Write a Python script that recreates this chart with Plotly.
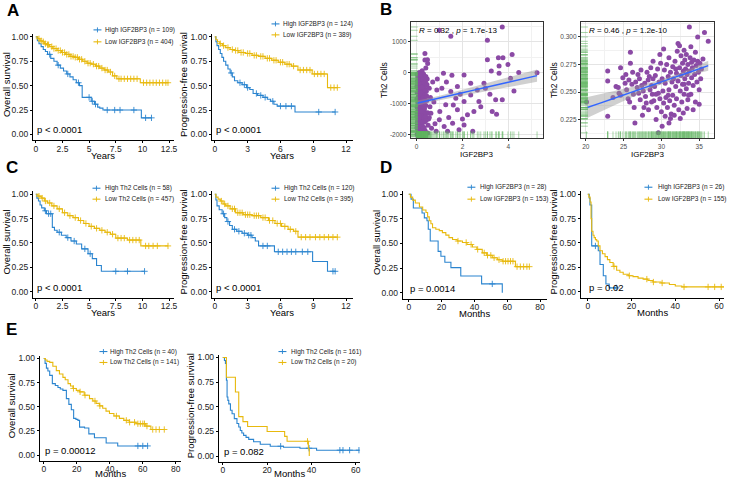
import numpy as np
import plotly.graph_objects as go

W, H = 730, 479
FONT = "Liberation Sans, Arial, sans-serif"
BLUE = "#2a84cf"
GOLD = "#e8b90d"
PURPLE = "#8b4aa5"
RUG = "rgba(96,180,96,0.55)"

# ---------------- KM curves (time, survival, censor times) ----------------
a1_hi_t = [0, 0.15, 0.3, 0.5, 0.7, 0.9, 1.1, 1.4, 1.7, 2.0, 2.3, 2.6, 2.9, 3.2, 3.5, 3.8, 4.1, 4.35, 5.2, 5.5, 5.8, 6.0, 6.3, 9.9, 10.85]
a1_hi_s = [1.0, 0.96, 0.93, 0.90, 0.87, 0.85, 0.82, 0.78, 0.75, 0.71, 0.68, 0.65, 0.62, 0.59, 0.56, 0.53, 0.50, 0.38, 0.34, 0.31, 0.28, 0.27, 0.25, 0.17, 0.17]
a1_hi_c = [1.3, 2.1, 3.0, 4.0, 5.0, 5.3, 5.6, 6.7, 7.4, 7.9, 9.2, 10.3, 10.85]
a1_lo_t = [0, 0.2, 0.4, 0.6, 0.8, 1.0, 1.3, 1.6, 2.0, 2.4, 2.8, 3.2, 3.6, 4.0, 4.4, 4.8, 5.2, 5.6, 6.0, 6.4, 6.8, 7.2, 7.6, 9.8, 12.4]
a1_lo_s = [1.0, 0.98, 0.96, 0.95, 0.93, 0.92, 0.90, 0.88, 0.86, 0.84, 0.82, 0.80, 0.79, 0.77, 0.75, 0.73, 0.72, 0.70, 0.68, 0.66, 0.64, 0.60, 0.57, 0.53, 0.53]
a1_lo_c = [0.3, 0.5, 0.7, 0.9, 1.1, 1.2, 1.5, 1.7, 1.9, 2.1, 2.3, 2.5, 2.7, 2.9, 3.1, 3.3, 3.5, 3.7, 3.9, 4.1, 4.3,
           4.6, 4.9, 5.1, 5.4, 5.7, 5.9, 6.2, 6.5, 6.7, 7.0, 7.4, 7.8, 8.0, 8.3, 8.6, 8.9, 9.2, 9.5, 10.1,
           10.4, 10.7, 11.0, 11.3, 11.6, 11.9, 12.2, 12.4]

a2_hi_t = [0, 0.1, 0.2, 0.35, 0.5, 0.65, 0.8, 1.0, 1.2, 1.4, 1.6, 1.8, 2.1, 2.5, 2.9, 3.2, 3.5, 3.9, 4.4, 4.8, 5.1, 5.4, 5.7, 7.33, 11.0]
a2_hi_s = [1.0, 0.95, 0.91, 0.87, 0.83, 0.79, 0.75, 0.71, 0.67, 0.63, 0.59, 0.55, 0.53, 0.51, 0.48, 0.46, 0.42, 0.40, 0.38, 0.36, 0.34, 0.31, 0.29, 0.23, 0.23]
a2_hi_c = [1.5, 2.3, 2.7, 3.0, 3.8, 4.2, 4.6, 5.3, 6.0, 6.5, 7.0, 9.5, 11.0]
a2_lo_t = [0, 0.1, 0.25, 0.45, 0.7, 1.0, 1.4, 1.8, 2.2, 2.8, 3.4, 4.0, 4.6, 5.2, 5.8, 6.4, 7.0, 7.6, 8.9, 10.3, 11.2]
a2_lo_s = [1.0, 0.97, 0.95, 0.93, 0.91, 0.89, 0.87, 0.86, 0.84, 0.83, 0.81, 0.80, 0.78, 0.76, 0.74, 0.72, 0.70, 0.66, 0.62, 0.48, 0.48]
a2_lo_c = [0.5, 0.8, 1.2, 1.6, 1.9, 2.1, 2.4, 2.6, 3.0, 3.2, 3.6, 3.8, 4.2, 4.4, 4.8, 5.0, 5.4, 5.6, 6.0, 6.2,
           6.6, 6.8, 7.2, 7.8, 8.1, 8.4, 8.7, 9.1, 9.4, 9.7, 10.0, 10.6, 10.9, 11.2]

c1_hi_t = [0, 0.1, 0.25, 0.4, 0.55, 0.8, 1.0, 1.55, 1.75, 2.0, 2.4, 2.85, 3.3, 3.8, 4.3, 4.9, 5.3, 5.7, 6.15, 10.2]
c1_hi_s = [1.0, 0.96, 0.93, 0.89, 0.86, 0.83, 0.80, 0.66, 0.63, 0.61, 0.58, 0.555, 0.52, 0.49, 0.44, 0.39, 0.34, 0.27, 0.21, 0.21]
c1_hi_c = [0.9, 1.2, 1.4, 2.2, 3.0, 3.6, 4.6, 5.1, 7.5, 8.6, 10.2]
c1_lo_t = [0, 0.2, 0.5, 0.8, 1.1, 1.5, 2.0, 2.5, 3.0, 3.5, 4.0, 4.5, 5.0, 5.5, 6.0, 6.5, 7.0, 7.5, 8.6, 9.85, 12.4]
c1_lo_s = [1.0, 0.98, 0.96, 0.93, 0.91, 0.88, 0.85, 0.81, 0.78, 0.76, 0.73, 0.70, 0.67, 0.65, 0.63, 0.61, 0.59, 0.55, 0.53, 0.47, 0.47]
c1_lo_c = [0.3, 0.6, 0.9, 1.3, 1.7, 2.2, 2.7, 3.2, 3.7, 4.2, 4.7, 5.2, 5.7, 6.2, 6.7, 7.2, 7.7, 8.0, 8.3, 8.8,
           9.1, 9.4, 9.7, 10.3, 10.6, 11.0, 11.4, 12.4]

c2_hi_t = [0, 0.1, 0.2, 0.4, 0.67, 0.9, 1.1, 1.35, 1.6, 2.0, 2.5, 3.0, 3.4, 3.7, 4.0, 5.45, 8.94, 10.3, 11.0]
c2_hi_s = [1.0, 0.94, 0.88, 0.84, 0.80, 0.76, 0.72, 0.68, 0.64, 0.62, 0.60, 0.58, 0.555, 0.52, 0.47, 0.41, 0.31, 0.21, 0.21]
c2_hi_c = [0.8, 1.2, 1.8, 2.2, 2.7, 3.1, 3.3, 4.4, 4.8, 5.8, 6.2, 6.6, 7.0, 7.4, 8.0, 8.5, 10.8, 11.0]
c2_lo_t = [0, 0.1, 0.3, 0.5, 0.75, 1.0, 1.4, 1.9, 2.6, 3.4, 4.2, 4.9, 5.5, 6.1, 6.7, 7.2, 7.6, 11.2]
c2_lo_s = [1.0, 0.97, 0.95, 0.93, 0.90, 0.88, 0.85, 0.81, 0.79, 0.78, 0.76, 0.73, 0.70, 0.67, 0.64, 0.62, 0.56, 0.56]
c2_lo_c = [0.6, 0.9, 1.2, 1.6, 1.8, 2.1, 2.3, 2.5, 2.8, 3.0, 3.2, 3.6, 3.8, 4.0, 4.4, 4.6, 5.0, 5.3, 5.7, 6.0,
           6.4, 6.9, 7.4, 7.9, 8.3, 8.7, 9.2, 9.6, 10.0, 10.4, 10.8, 11.2]

d1_hi_t = [0, 1.4, 2.8, 8.1, 9.5, 11.1, 11.9, 13.1, 17.9, 19.6, 22.0, 25.7, 31.7, 44.4, 57.0]
d1_hi_s = [1.0, 0.95, 0.86, 0.81, 0.76, 0.73, 0.645, 0.525, 0.42, 0.37, 0.31, 0.255, 0.17, 0.09, 0.0]
d1_hi_c = [50.9]
d1_lo_t = [0, 1.0, 2.4, 4.0, 6.5, 8.5, 10.5, 11.5, 12.5, 13.5, 14.5, 16.5, 18.6, 20.5, 22.6, 24.5, 26.7, 29.5,
           32.7, 35.5, 38.8, 41.5, 44.8, 47.5, 50.9, 54.0, 57.0, 65.0, 73.5]
d1_lo_s = [1.0, 0.97, 0.94, 0.91, 0.87, 0.84, 0.815, 0.77, 0.73, 0.70, 0.66, 0.645, 0.63, 0.61, 0.585, 0.56, 0.54, 0.525,
           0.51, 0.49, 0.465, 0.44, 0.405, 0.38, 0.355, 0.335, 0.32, 0.265, 0.265]
d1_lo_c = [30, 35, 38, 42, 46, 48, 50, 52, 55, 57.5, 59, 60.5, 62, 63.5, 66, 68, 70, 72, 73.5]

d2_hi_t = [0, 0.7, 1.0, 1.8, 4.8, 5.6, 7.1, 8.3, 9.8, 13.0]
d2_hi_s = [1.0, 0.96, 0.89, 0.47, 0.42, 0.28, 0.165, 0.08, 0.04, 0.04]
d2_hi_c = [3.5, 13.0]
d2_lo_t = [0, 0.5, 1.06, 1.5, 1.8, 2.4, 2.9, 3.5, 4.1, 4.8, 5.6, 6.7, 7.9, 9.0, 10.1, 11.6, 13.2, 14.7, 16.2,
           18.5, 20.7, 23.0, 25.3, 27.5, 29.8, 33.5, 37.3, 40.0, 43.0, 62.3]
d2_lo_s = [1.0, 0.97, 0.92, 0.75, 0.62, 0.58, 0.555, 0.535, 0.52, 0.47, 0.42, 0.39, 0.36, 0.33, 0.30, 0.26, 0.22, 0.20, 0.18,
           0.165, 0.155, 0.14, 0.13, 0.115, 0.10, 0.09, 0.075, 0.06, 0.05, 0.05]
d2_lo_c = [12, 19, 27, 30, 34, 44, 55, 58, 61]

e1_hi_t = [0, 0.8, 1.6, 2.5, 3.6, 5.2, 7.0, 8.6, 10.0, 11.6, 13.7, 15.2, 16.7, 18.1, 19.5, 20.7, 21.7, 24.7, 27.3,
           30.7, 37.8, 44.8, 62.9]
e1_hi_s = [1.0, 0.95, 0.90, 0.87, 0.825, 0.74, 0.72, 0.70, 0.685, 0.67, 0.585, 0.525, 0.47, 0.38, 0.37, 0.36, 0.29, 0.28, 0.22,
           0.18, 0.125, 0.095, 0.095]
e1_hi_c = [57, 60, 62.9]
e1_lo_t = [0, 1.0, 2.0, 3.6, 5.5, 7.6, 9.5, 11.6, 13.0, 14.7, 16.2, 17.7, 19.7, 21.7, 24.5, 27.7, 29.7, 31.7, 33.7,
           35.7, 37.7, 39.8, 42.5, 45.8, 48.5, 51.8, 55.9, 61.8, 64.9, 73.0]
e1_lo_s = [1.0, 0.985, 0.97, 0.96, 0.92, 0.875, 0.84, 0.805, 0.78, 0.74, 0.715, 0.69, 0.67, 0.655, 0.62, 0.585, 0.56, 0.535, 0.51,
           0.485, 0.455, 0.43, 0.405, 0.38, 0.36, 0.34, 0.325, 0.30, 0.265, 0.265]
e1_lo_c = [18, 22, 25, 31, 34, 44, 50, 52, 55, 57, 58.5, 60, 61, 62.5, 66, 68, 70, 73]

e2_hi_t = [0, 0.75, 1.2, 1.64, 1.94, 2.3, 2.7, 3.45, 4.2, 5.2, 6.4, 7.2, 7.9, 8.6, 9.4, 10.5, 11.7, 13.9, 16.9,
           21.4, 27.4, 34.8, 42.3, 61.4]
e2_hi_s = [1.0, 0.97, 0.94, 0.77, 0.60, 0.565, 0.53, 0.465, 0.43, 0.38, 0.33, 0.295, 0.26, 0.235, 0.21, 0.19, 0.17, 0.145, 0.12,
           0.10, 0.09, 0.08, 0.06, 0.06]
e2_hi_c = [26.1, 38.9, 52.8, 54.2, 57.2, 61.4]
e2_lo_t = [0, 1.64, 5.7, 7.2, 9.1, 11.2, 20.0, 27.9, 29.0, 38.6, 39.0]
e2_lo_s = [1.0, 0.80, 0.65, 0.40, 0.35, 0.30, 0.25, 0.20, 0.15, 0.075, 0.0]
e2_lo_c = [38.2]

surv_ticks = [0, 0.25, 0.5, 0.75, 1.0]
surv_labels = ["0.00", "0.25", "0.50", "0.75", "1.00"]
years_a_vals = [0, 2.5, 5, 7.5, 10, 12.5]
years_a_text = ["0", "2.5", "5", "7.5", "10", "12.5"]
years_b_vals = [0, 3, 6, 9, 12]
months80_vals = [0, 20, 40, 60, 80]
months60_vals = [0, 20, 40, 60]

# ---------------- panel B scatter data ----------------
b1_igf2bp3 = [
    0.02, 0.10, 0.18, 0.30, 0.05, 0.14, 0.25, 0.40, 0.03, 0.09,
    0.21, 0.33, 0.12, 0.01, 0.27, 0.45, 0.06, 0.16, 0.35, 0.22,
    0.02, 0.11, 0.30, 0.42, 0.07, 0.19, 0.26, 0.01, 0.13, 0.36,
    0.23, 0.05, 0.15, 0.31, 0.09, 0.02, 0.20, 0.40, 0.27, 0.12,
    0.04, 0.17, 0.33, 0.08, 0.24, 0.01, 0.14, 0.38, 0.06, 0.21,
    0.29, 0.11, 0.03, 0.18, 0.35, 0.08, 0.25, 0.01, 0.15, 0.05,
    0.20, 0.10, 0.02, 0.28, 0.14, 0.06, 0.22, 0.04, 0.16, 0.09,
    0.19, 0.28, 0.35, 0.05, 0.24, 0.44, 0.48, 0.50, 0.46, 0.55,
    0.58, 0.52, 0.60, 0.62, 0.48, 0.33, 0.12, 0.24, 0.36, 0.48,
    0.40, 0.36, 0.99, 1.49, 0.88, 1.17, 1.54, 2.07, 2.36, 1.01,
    1.27, 0.99, 1.49, 1.78, 1.71, 2.07, 2.36, 2.65, 2.94, 1.78,
    2.22, 1.57, 2.07, 1.20, 2.50, 2.72, 3.74, 3.09, 3.57, 3.77,
    4.17, 3.99, 3.60, 3.60, 4.46, 5.26, 3.26, 3.09, 4.10, 4.25,
    3.45, 3.74, 3.30, 3.49, 0.70, 0.75, 0.80, 0.85, 0.90, 0.65,
    1.10, 1.30, 1.40, 1.60, 1.90, 2.00, 2.80, 3.00, 3.20, 2.45,
    1.35, 1.85, 0.47, 0.30, 0.55,
    0.07, 0.13, 0.20, 0.26, 0.32, 0.38, 0.04, 0.11, 0.17, 0.23,
    0.29, 0.43, 0.10, 0.16, 0.28, 0.34, 0.02, 0.08, 0.19, 0.31,
    0.41, 0.03, 0.12, 0.22, 0.27, 0.37, 0.07, 0.13, 0.18, 0.26,
    0.09, 0.21, 0.31, 0.43, 0.15, 0.06, 0.25, 0.38, 0.11, 0.33,
]
b1_th2 = [
    -50, -20, -80, -40, -150, -200, -170, -120, -280, -330,
    -300, -260, -410, -450, -430, -380, -520, -560, -510, -620,
    -650, -700, -690, -600, -780, -800, -760, -850, -880, -840,
    -930, -960, -1000, -980, -1080, -1120, -1110, -1060, -1180, -1200,
    -1260, -1290, -1250, -1350, -1370, -1420, -1440, -1400, -1500, -1520,
    -1480, -1580, -1620, -1650, -1600, -1710, -1730, -1780, -1800, -1860,
    -1880, -1940, -1990, -1930, -2030, -2080, -2000, -1560, -1350, -620,
    -470, -580, -720, -1050, -1050, -900, -1300, -1700, -200, -500,
    -1100, -1500, -800, -1310, -1950, -1780, 10, 60, 410, 300,
    150, 620, 1375, 1180, -560, -20, -80, -75, -345, -1260,
    -1040, -1525, -610, -450, -830, -935, -720, -560, -345, -1200,
    -1365, -1635, -1690, -1740, -1260, -935, 1480, 1050, 484, 484,
    590, 268, 215, -20, 10, 0, 55, 420, -183, -590,
    -880, -880, -1260, -1345, -300, -950, -1650, -1900, -200, -1800,
    -500, -300, -1450, -1050, -700, -1500, -1100, -500, -700, -1900,
    -1900, -1850, 420, -1250, -1450,
    -90, -250, -360, -230, -330, -280, -380, -520, -650, -470,
    -800, -750, -900, -1150, -1100, -1170, -1300, -1230, -1380, -1330,
    -1550, -1700, -1720, -1600, -1820, -1880, -1650, -1900, -2050, -2060,
    -2010, -1250, -1030, -400, -60, -230, -880, -1420, -1460, -1950,
]
b1_fit_x = [0, 1, 2, 3, 4, 5.26]
b1_fit_y = [-990, -820, -650, -480, -310, -96]
b1_fit_hw = [80, 70, 95, 125, 160, 200]

b2_igf2bp3 = [
    20.1, 22.9, 22.9, 22.9, 23.6, 24.0, 24.3, 24.6, 24.6, 24.9,
    25.3, 25.4, 25.6, 25.7, 25.8, 25.9, 25.9, 25.2, 24.4, 26.3,
    26.6, 26.5, 26.9, 27.4, 27.6, 27.9, 28.25, 28.5, 28.7, 28.0,
    27.5, 28.4, 26.2, 26.8, 27.1, 27.2, 27.8, 28.1, 28.6, 28.9,
    26.4, 27.0, 28.3, 28.8, 27.7, 26.1, 28.9, 28.7, 27.3, 29.0,
    29.1, 29.2, 29.3, 29.4, 29.5, 29.6, 29.6, 29.7, 29.8, 29.9,
    30.0, 30.1, 30.1, 30.2, 30.3, 30.4, 30.5, 30.6, 30.7, 30.8,
    30.9, 31.0, 31.0, 31.1, 31.2, 31.3, 31.4, 31.5, 31.5, 31.6,
    31.7, 31.8, 31.9, 32.0, 32.0, 32.1, 32.2, 32.2, 32.3, 32.4,
    32.4, 32.5, 32.6, 32.6, 32.7, 32.8, 32.8, 32.9, 33.0, 33.0,
    30.5, 31.2, 29.8, 30.3, 31.7, 32.9, 29.3, 30.9, 31.9, 33.1,
    33.1, 33.2, 33.3, 33.3, 33.4, 33.5, 33.5, 33.6, 33.7, 33.7,
    33.8, 33.9, 34.0, 34.0, 34.1, 34.2, 34.3, 34.4, 34.5, 34.6,
    34.7, 34.8, 34.8, 34.9, 35.0, 35.1, 35.2, 35.3, 35.5, 35.7,
    36.2, 33.4, 34.2, 33.9, 35.0, 34.5, 33.0, 31.0, 32.5, 33.6,
]
b2_th2 = [
    0.241, 0.269, 0.260, 0.228, 0.245, 0.255, 0.254, 0.272, 0.247, 0.263,
    0.266, 0.252, 0.244, 0.261, 0.241, 0.286, 0.276, 0.258, 0.249, 0.248,
    0.259, 0.222, 0.266, 0.256, 0.251, 0.246, 0.261, 0.252, 0.241, 0.240,
    0.229, 0.264, 0.268, 0.254, 0.262, 0.243, 0.258, 0.268, 0.272, 0.262,
    0.236, 0.249, 0.234, 0.248, 0.236, 0.257, 0.278, 0.256, 0.270, 0.242,
    0.255, 0.265, 0.225, 0.236, 0.271, 0.213, 0.249, 0.259, 0.244, 0.276,
    0.232, 0.219, 0.262, 0.251, 0.240, 0.270, 0.258, 0.245, 0.275, 0.236,
    0.264, 0.252, 0.281, 0.242, 0.268, 0.230, 0.259, 0.273, 0.247, 0.262,
    0.238, 0.278, 0.255, 0.267, 0.244, 0.287, 0.294, 0.260, 0.234, 0.292,
    0.272, 0.251, 0.283, 0.265, 0.241, 0.276, 0.257, 0.269, 0.248, 0.288,
    0.228, 0.226, 0.284, 0.289, 0.229, 0.231, 0.248, 0.247, 0.271, 0.279,
    0.262, 0.271, 0.253, 0.284, 0.266, 0.243, 0.275, 0.258, 0.309, 0.269,
    0.281, 0.248, 0.263, 0.277, 0.272, 0.256, 0.279, 0.266, 0.241, 0.274,
    0.259, 0.300, 0.278, 0.268, 0.252, 0.276, 0.262, 0.271, 0.280, 0.304,
    0.296, 0.235, 0.234, 0.291, 0.239, 0.286, 0.257, 0.222, 0.226, 0.247,
]
b2_fit_x = [20.1, 22, 24, 26, 28, 30, 32, 34, 36.2]
b2_fit_y = [0.2357, 0.2402, 0.2449, 0.2497, 0.2544, 0.2592, 0.2639, 0.2686, 0.2739]
b2_fit_hw = [0.0095, 0.0078, 0.0060, 0.0044, 0.0030, 0.0022, 0.0022, 0.0030, 0.0045]

# ---------------- helpers ----------------
fig = go.Figure()
annotations = []
shapes = []
axes = {}


def names(n):
    s = "" if n == 1 else str(n)
    return "x" + s, "y" + s, "xaxis" + s, "yaxis" + s


def fx(p):
    return p / W


def fy(p):
    return 1 - p / H


def note(text, x, y, size, color="black", **kw):
    # explicit anchors: plotly's "auto" anchoring shifts paper annotations near the edges
    kw.setdefault("xanchor", "center")
    kw.setdefault("yanchor", "middle")
    annotations.append(dict(text=text, x=fx(x), y=fy(y), xref="paper", yref="paper", showarrow=False,
                            font=dict(size=size, color=color, family=FONT), borderpad=0, **kw))


def step_at(t, s, c):
    idx = np.searchsorted(np.asarray(t, float), np.asarray(c, float), side="right") - 1
    return np.asarray(s)[idx]


def draw_km(p):
    xr, yr, xa, ya = names(p["n"])
    top = p["y1p"] - 0.03 * (p["y0p"] - p["y1p"])
    bot = p["y0p"] + 0.06 * (p["y0p"] - p["y1p"])
    for (t, s, c), col in ((p["hi"], BLUE), (p["lo"], GOLD)):
        fig.add_trace(go.Scatter(x=t, y=s, mode="lines", line=dict(color=col, width=1.1, shape="hv"),
                                 xaxis=xr, yaxis=yr, hoverinfo="skip"))
        fig.add_trace(go.Scatter(x=c, y=step_at(t, s, c), mode="markers", xaxis=xr, yaxis=yr,
                                 marker=dict(symbol="cross-thin-open", size=4.5, color=col,
                                             line=dict(color=col, width=0.9))))
    common = dict(showline=True, linecolor="black", linewidth=1, ticks="outside", ticklen=2, tickwidth=1,
                  tickcolor="black", showgrid=False, zeroline=False,
                  tickfont=dict(size=8.5, color="#222222", family=FONT))
    axes[xa] = dict(common, domain=[fx(p["L"]), fx(p["R"])],
                    range=[(p["L"] - p["x0"]) / p["kx"], (p["R"] - p["x0"]) / p["kx"]],
                    tickvals=p["xtv"], ticktext=p["xtt"], anchor=yr, ticklabelstandoff=-2)
    axes[ya] = dict(common, domain=[fy(bot), fy(top)], range=[-0.06, 1.03],
                    tickvals=surv_ticks, ticktext=surv_labels, anchor=xr)
    # axis titles, p value
    note(p["ytitle"], p["ytx"], (top + bot) / 2 - 3, 9.5, textangle=-90)
    note(p["xtitle"], (p["L"] + p["R"]) / 2, min(bot + 15, H - 5.5), 9.5)
    note(p["pval"], p["x0"], p["y0p"] - 4.5, 9.5, xanchor="left")
    # small legend
    lx, tx = p["lx"], p["tx"]
    for yy, lab, col in zip(p["ly"], p["labels"], (BLUE, GOLD)):
        shapes.append(dict(type="line", xref="paper", yref="paper", x0=fx(lx), x1=fx(lx + 8),
                           y0=fy(yy), y1=fy(yy), line=dict(color=col, width=1.1)))
        shapes.append(dict(type="line", xref="paper", yref="paper", x0=fx(lx + 4), x1=fx(lx + 4),
                           y0=fy(yy - 2.5), y1=fy(yy + 2.5), line=dict(color=col, width=0.9)))
        note(lab, tx, yy, 6.5, color="#222222", xanchor="left")


def draw_scatter(p):
    xr, yr, xa, ya = names(p["n"])
    xs, ys = p["x"], p["y"]
    fy_ = np.asarray(p["fit_y"], float)
    hw = np.asarray(p["hw"], float)
    fig.add_trace(go.Scatter(x=xs, y=ys, mode="markers", xaxis=xr, yaxis=yr,
                             marker=dict(color=PURPLE, size=5, line=dict(width=0))))
    fig.add_trace(go.Scatter(x=p["fit_x"], y=fy_ - hw, mode="lines", line=dict(width=0),
                             xaxis=xr, yaxis=yr, hoverinfo="skip"))
    fig.add_trace(go.Scatter(x=p["fit_x"], y=fy_ + hw, mode="lines", line=dict(width=0), fill="tonexty",
                             fillcolor="rgba(150,150,150,0.45)", xaxis=xr, yaxis=yr, hoverinfo="skip"))
    fig.add_trace(go.Scatter(x=p["fit_x"], y=fy_, mode="lines", line=dict(color="#3366ff", width=1.4, shape="spline"),
                             xaxis=xr, yaxis=yr))
    fig.add_trace(go.Scatter(x=[p["xr"][0]] * len(ys), y=ys, mode="markers", xaxis=xr, yaxis=yr,
                             marker=dict(symbol="line-ew-open", size=10, color=RUG, line=dict(color=RUG, width=1))))
    fig.add_trace(go.Scatter(x=xs, y=[p["yr"][0]] * len(xs), mode="markers", xaxis=xr, yaxis=yr,
                             marker=dict(symbol="line-ns-open", size=10, color=RUG, line=dict(color=RUG, width=1))))
    common = dict(showline=True, mirror=True, linecolor="#333333", linewidth=0.8, ticks="outside", ticklen=2,
                  tickcolor="#333333", tickwidth=0.8, showgrid=True, gridcolor="#e4e4e4", gridwidth=0.7,
                  zeroline=False, tickfont=dict(size=6.5, color="#4d4d4d", family=FONT))
    axes[xa] = dict(common, domain=[fx(p["L"]), fx(p["R"])], range=p["xr"], tickvals=p["xtv"], anchor=yr,
                    minor=dict(tickvals=p["xminor"], showgrid=True, gridcolor="#f1f1f1", gridwidth=0.5, ticks=""))
    axes[ya] = dict(common, domain=[fy(p["B"]), fy(p["T"])], range=p["yr"], tickvals=p["ytv"],
                    ticktext=p["ytt"], anchor=xr,
                    minor=dict(tickvals=p["yminor"], showgrid=True, gridcolor="#f1f1f1", gridwidth=0.5, ticks=""))
    note(p["stat"], p["L"] + 7, p["T"] + 9, 8, xanchor="left")
    note("Th2 Cells", p["L"] - 27, (p["T"] + p["B"]) / 2, 8.5, textangle=-90)
    note("IGF2BP3", (p["L"] + p["R"]) / 2, p["B"] + 16, 8)


# ---------------- panels ----------------
km_panels = [
    dict(n=1, hi=(a1_hi_t, a1_hi_s, a1_hi_c), lo=(a1_lo_t, a1_lo_s, a1_lo_c), L=33, R=175, x0=36, kx=10.72,
         y1p=35, y0p=133, xtv=years_a_vals, xtt=years_a_text, ytitle="Overall survival", ytx=6,
         xtitle="Years", pval="p < 0.0001", lx=94, tx=105, ly=(28, 40),
         labels=("High IGF2BP3 (n = 109)", "Low IGF2BP3 (n = 404)")),
    dict(n=2, hi=(a2_hi_t, a2_hi_s, a2_hi_c), lo=(a2_lo_t, a2_lo_s, a2_lo_c), L=213, R=355, x0=216, kx=11.0,
         y1p=35, y0p=133, xtv=years_b_vals, xtt=[str(v) for v in years_b_vals],
         ytitle="Progression-free survival", ytx=184, xtitle="Years", pval="p < 0.0001", lx=273, tx=284,
         ly=(22, 33), labels=("High IGF2BP3 (n = 124)", "Low IGF2BP3 (n = 389)")),
    dict(n=5, hi=(c1_hi_t, c1_hi_s, c1_hi_c), lo=(c1_lo_t, c1_lo_s, c1_lo_c), L=33, R=175, x0=36, kx=10.72,
         y1p=193, y0p=291, xtv=years_a_vals, xtt=years_a_text, ytitle="Overall survival", ytx=6,
         xtitle="Years", pval="p < 0.0001", lx=93, tx=105, ly=(187, 198),
         labels=("High Th2 Cells (n = 58)", "Low Th2 Cells (n = 457)")),
    dict(n=6, hi=(c2_hi_t, c2_hi_s, c2_hi_c), lo=(c2_lo_t, c2_lo_s, c2_lo_c), L=213, R=355, x0=216, kx=11.0,
         y1p=193, y0p=291, xtv=years_b_vals, xtt=[str(v) for v in years_b_vals],
         ytitle="Progression-free survival", ytx=184, xtitle="Years", pval="p < 0.0001", lx=273, tx=285,
         ly=(187, 198), labels=("High Th2 Cells (n = 120)", "Low Th2 Cells (n = 395)")),
    dict(n=7, hi=(d1_hi_t, d1_hi_s, d1_hi_c), lo=(d1_lo_t, d1_lo_s, d1_lo_c), L=405, R=550, x0=411, kx=1.65,
         y1p=193, y0p=292, xtv=months80_vals, xtt=[str(v) for v in months80_vals],
         ytitle="Overall survival", ytx=379, xtitle="Months", pval="p = 0.0014", lx=470, tx=482,
         ly=(186, 198), labels=("High IGF2BP3 (n = 28)", "Low IGF2BP3 (n = 153)")),
    dict(n=8, hi=(d2_hi_t, d2_hi_s, d2_hi_c), lo=(d2_lo_t, d2_lo_s, d2_lo_c), L=584, R=728, x0=591, kx=2.2,
         y1p=193, y0p=291, xtv=months60_vals, xtt=[str(v) for v in months60_vals],
         ytitle="Progression-free survival", ytx=557, xtitle="Months", pval="p = 0.02", lx=648, tx=661,
         ly=(186, 198), labels=("High IGF2BP3 (n = 26)", "Low IGF2BP3 (n = 155)")),
    dict(n=9, hi=(e1_hi_t, e1_hi_s, e1_hi_c), lo=(e1_lo_t, e1_lo_s, e1_lo_c), L=40, R=182, x0=44, kx=1.66,
         y1p=358, y0p=455, xtv=months80_vals, xtt=[str(v) for v in months80_vals],
         ytitle="Overall survival", ytx=11, xtitle="Months", pval="p = 0.00012", lx=100, tx=110,
         ly=(351, 362), labels=("High Th2 Cells (n = 40)", "Low Th2 Cells (n = 141)")),
    dict(n=10, hi=(e2_hi_t, e2_hi_s, e2_hi_c), lo=(e2_lo_t, e2_lo_s, e2_lo_c), L=220, R=362, x0=224, kx=2.23,
         y1p=357, y0p=456, xtv=months60_vals, xtt=[str(v) for v in months60_vals],
         ytitle="Progression-free survival", ytx=191, xtitle="Months", pval="p = 0.082", lx=280, tx=292,
         ly=(351, 362), labels=("High Th2 Cells (n = 161)", "Low Th2 Cells (n = 20)")),
]
for p in km_panels:
    draw_km(p)

draw_scatter(dict(n=3, x=b1_igf2bp3, y=b1_th2, fit_x=b1_fit_x, fit_y=b1_fit_y, hw=b1_fit_hw,
                  L=413, R=546, T=20, B=137, xr=[-0.26, 5.52], yr=[-2129, 1645], xtv=[0, 2, 4],
                  xminor=[1, 3, 5], ytv=[-2000, -1000, 0, 1000], ytt=["-2000", "-1000", "0", "1000"],
                  yminor=[-1500, -500, 500, 1500], stat="<i>R</i> = 0.32 , <i>p</i> = 1.7e-13"))
draw_scatter(dict(n=4, x=b2_igf2bp3, y=b2_th2, fit_x=b2_fit_x, fit_y=b2_fit_y, hw=b2_fit_hw,
                  L=584, R=718, T=20, B=137, xr=[19.34, 36.97], yr=[0.2079, 0.3136], xtv=[20, 25, 30, 35],
                  xminor=[22.5, 27.5, 32.5], ytv=[0.225, 0.25, 0.275, 0.3],
                  ytt=["0.225", "0.250", "0.275", "0.300"], yminor=[0.2125, 0.2375, 0.2625, 0.2875, 0.3125],
                  stat="<i>R</i> = 0.46 , <i>p</i> = 1.2e-10"))

for letter, x, y in (("A", 13, 9), ("B", 388, 8), ("C", 12, 166), ("D", 388, 166), ("E", 12, 329)):
    note("<b>" + letter + "</b>", x, y, 17)

# no fixed width/height in the layout: the div below is pinned to the window origin at 730x479,
# so the default 8px body margin does not shift or scroll the figure
fig.update_layout(autosize=True, margin=dict(l=0, r=0, t=0, b=0), paper_bgcolor="white",
                  plot_bgcolor="white", showlegend=False, font=dict(family=FONT),
                  annotations=annotations, shapes=shapes, **axes)
fig.write_html("out.html", config={"displayModeBar": False}, default_width=f"{W}px",
               default_height=f"{H}px; position:absolute; left:0px; top:0px")
